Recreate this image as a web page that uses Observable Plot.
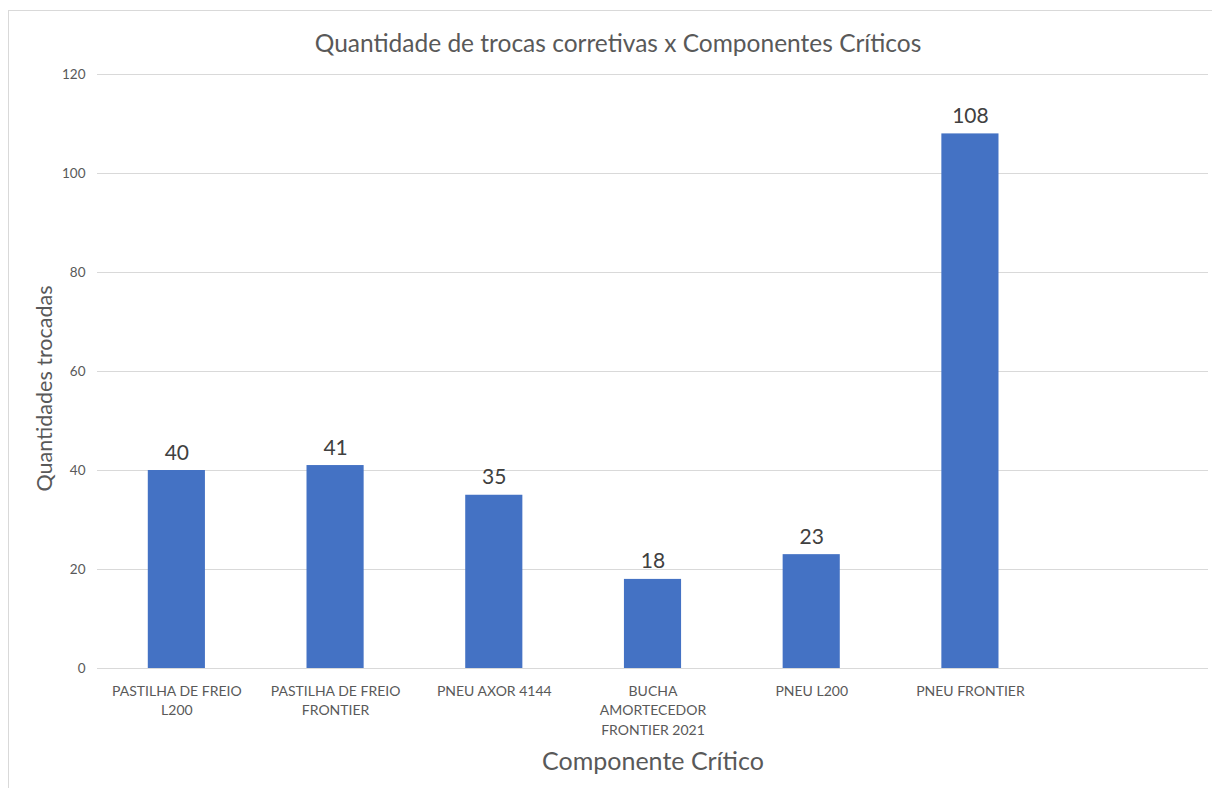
<!DOCTYPE html>
<html>
<head>
<meta charset="utf-8">
<script src="https://cdn.jsdelivr.net/npm/d3@7"></script>
<script src="https://cdn.jsdelivr.net/npm/@observablehq/plot@0.6"></script>
<style>
  html, body { margin: 0; padding: 0; background: #fff; }
  body { width: 1212px; height: 788px; position: relative; overflow: hidden; font-family: Lato, "Open Sans", sans-serif; }
  #frame { position: absolute; left: 8px; top: 10px; width: 1300px; height: 900px; border-left: 1px solid #d9d9d9; border-top: 1px solid #d9d9d9; }
  #title { position: absolute; left: 0; top: 27px; width: 1236px; text-align: center; font-size: 24.5px; color: #595959; line-height: 32px; }
  #chart { position: absolute; left: 0; top: 62px; }
</style>
</head>
<body>
<div id="frame"></div>
<div id="title">Quantidade de trocas corretivas x Componentes Críticos</div>
<div id="chart"></div>
<script>
const categories = ["PASTILHA DE FREIO L200", "PASTILHA DE FREIO FRONTIER", "PNEU AXOR 4144", "BUCHA AMORTECEDOR FRONTIER 2021", "PNEU L200", "PNEU FRONTIER"];
const values = [40, 41, 35, 18, 23, 108];
const tickLabels = ["PASTILHA DE FREIO\nL200", "PASTILHA DE FREIO\nFRONTIER", "PNEU AXOR 4144", "BUCHA\nAMORTECEDOR\nFRONTIER 2021", "PNEU L200", "PNEU FRONTIER"];
const yTicks = [0, 20, 40, 60, 80, 100, 120];
const xTitle = "Componente Crítico";
const yTitle = "Quantidades trocadas";

const data = categories.map((c, i) => ({category: c, value: values[i]}));
const domain = [...categories, ""];
const labelOf = new Map(categories.map((c, i) => [c, tickLabels[i]]));

const chart = Plot.plot({
  width: 1212,
  height: 726,
  marginLeft: 97,
  marginRight: 4,
  marginTop: 12,
  marginBottom: 120,
  style: {fontFamily: "Lato, 'Open Sans', sans-serif", background: "transparent"},
  x: {type: "band", domain, paddingInner: 0.64, paddingOuter: 0.32, align: 0.5, round: false},
  y: {domain: [0, 120]},
  marks: [
    Plot.ruleY(yTicks, {stroke: "#d9d9d9", strokeWidth: 1}),
    Plot.barY(data, {x: "category", y: "value", fill: "#4472c4"}),
    Plot.text(data, {x: "category", y: "value", text: d => String(d.value), lineAnchor: "bottom", dy: -11, fontSize: 21, fill: "#404040"}),
    Plot.axisY({ticks: yTicks, tickSize: 0, tickPadding: 12, fontSize: 13.5, color: "#595959", label: null}),
    Plot.axisX({tickSize: 0, tickPadding: 13, fontSize: 14, lineHeight: 1.42, color: "#595959", label: null, tickFormat: d => labelOf.get(d) ?? ""}),
    Plot.text([xTitle], {frameAnchor: "bottom", dy: 101, fontSize: 25, fill: "#595959"}),
    Plot.text([yTitle], {frameAnchor: "left", textAnchor: "middle", rotate: -90, dx: -52, dy: 17, fontSize: 21.5, fill: "#595959"})
  ]
});
document.getElementById("chart").appendChild(chart);
</script>
</body>
</html>
